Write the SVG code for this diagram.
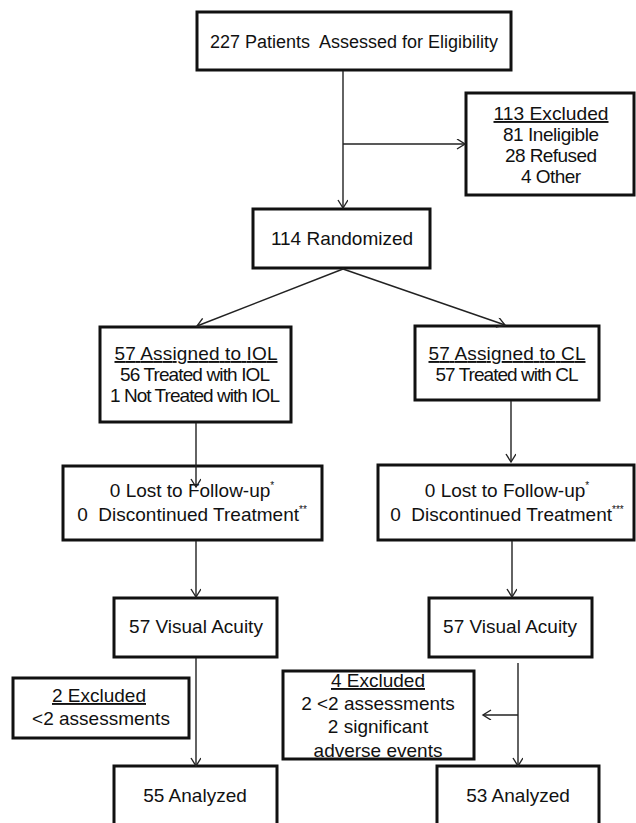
<svg xmlns="http://www.w3.org/2000/svg" width="636" height="823" viewBox="0 0 636 823">
<style>
.box{fill:#fff;stroke:#111;stroke-width:3}
.t{font-family:"Liberation Sans",Arial,sans-serif;font-size:19px;fill:#111;text-anchor:middle}
.s18{font-size:18px}
.u{text-decoration:underline}
.sup{font-size:10px}
.c{fill:none;stroke:#222;stroke-width:1.4}
</style>
<defs>
<marker id="ah" markerUnits="userSpaceOnUse" markerWidth="12" markerHeight="12" refX="9" refY="5" orient="auto">
<path d="M1,0 L9,5 L1,10" fill="none" stroke="#222" stroke-width="1.4"/>
</marker>
</defs>
<rect width="636" height="823" fill="#fff"/>
<g id="n_assessed">
<rect class="box" x="197" y="12" width="314" height="58"/>
<text class="t s18" x="354" y="48" xml:space="preserve">227 Patients  Assessed for Eligibility</text>
</g>
<g id="n_excluded113">
<rect class="box" x="466" y="93" width="168" height="102"/>
<text class="t u" x="551" y="120" textLength="115" lengthAdjust="spacingAndGlyphs">113 Excluded</text>
<text class="t" x="551" y="141" textLength="96" lengthAdjust="spacing">81 Ineligible</text>
<text class="t" x="551" y="162" textLength="92" lengthAdjust="spacing">28 Refused</text>
<text class="t" x="551" y="183" textLength="60" lengthAdjust="spacing">4 Other</text>
</g>
<g id="n_randomized">
<rect class="box" x="253" y="209" width="177" height="59"/>
<text class="t" x="342" y="245">114 Randomized</text>
</g>
<g id="n_iol">
<rect class="box" x="100" y="327" width="191" height="95"/>
<text class="t u" x="196" y="360" textLength="163" lengthAdjust="spacing">57 Assigned to IOL</text>
<text class="t" x="195" y="381" textLength="150" lengthAdjust="spacing">56 Treated with IOL</text>
<text class="t" x="195" y="402" textLength="170" lengthAdjust="spacing">1 Not Treated with IOL</text>
</g>
<g id="n_cl">
<rect class="box" x="415" y="326" width="184" height="74"/>
<text class="t u" x="507" y="360" textLength="157" lengthAdjust="spacing">57 Assigned to CL</text>
<text class="t" x="507" y="381" textLength="143" lengthAdjust="spacing">57 Treated with CL</text>
</g>
<g id="n_fu_iol">
<rect class="box" x="63" y="466" width="259" height="74"/>
<text class="t" x="192" y="497">0 Lost to Follow-up<tspan class="sup" dy="-8">*</tspan></text>
<text class="t" x="192" y="521" xml:space="preserve">0  Discontinued Treatment<tspan class="sup" dy="-8">**</tspan></text>
</g>
<g id="n_fu_cl">
<rect class="box" x="378" y="465" width="256" height="75"/>
<text class="t" x="507" y="497">0 Lost to Follow-up<tspan class="sup" dy="-8">*</tspan></text>
<text class="t" x="507" y="521" xml:space="preserve">0  Discontinued Treatment<tspan class="sup" dy="-8">***</tspan></text>
</g>
<g id="n_va_iol">
<rect class="box" x="114" y="598" width="163" height="59"/>
<text class="t" x="196" y="633">57 Visual Acuity</text>
</g>
<g id="n_va_cl">
<rect class="box" x="429" y="598" width="163" height="59"/>
<text class="t" x="510" y="633">57 Visual Acuity</text>
</g>
<g id="n_excl_iol">
<rect class="box" x="13" y="678" width="176" height="60"/>
<text class="t u" x="99" y="702">2 Excluded</text>
<text class="t" x="101" y="725">&lt;2 assessments</text>
</g>
<g id="n_excl_cl">
<rect class="box" x="283" y="671" width="191" height="88"/>
<text class="t u" x="378" y="687">4 Excluded</text>
<text class="t" x="378" y="710">2 &lt;2 assessments</text>
<text class="t" x="378" y="733">2 significant</text>
<text class="t" x="378" y="757">adverse events</text>
</g>
<g id="n_an_iol">
<rect class="box" x="114" y="766" width="163" height="70"/>
<text class="t" x="195" y="802">55 Analyzed</text>
</g>
<g id="n_an_cl">
<rect class="box" x="437" y="766" width="162" height="70"/>
<text class="t" x="518" y="802">53 Analyzed</text>
</g>
<g id="connectors">
<line class="c" x1="343" y1="71" x2="343" y2="208" marker-end="url(#ah)"/>
<line class="c" x1="343" y1="144" x2="465" y2="144" marker-end="url(#ah)"/>
<line class="c" x1="343" y1="269" x2="197" y2="326" marker-end="url(#ah)"/>
<line class="c" x1="343" y1="269" x2="505" y2="325" marker-end="url(#ah)"/>
<line class="c" x1="196" y1="423" x2="196" y2="487" marker-end="url(#ah)"/>
<line class="c" x1="511" y1="401" x2="511" y2="462" marker-end="url(#ah)"/>
<line class="c" x1="196" y1="541" x2="196" y2="597" marker-end="url(#ah)"/>
<line class="c" x1="512" y1="541" x2="512" y2="597" marker-end="url(#ah)"/>
<line class="c" x1="196" y1="658" x2="196" y2="766" marker-end="url(#ah)"/>
<line class="c" x1="518" y1="663" x2="518" y2="766" marker-end="url(#ah)"/>
<line class="c" x1="518" y1="715" x2="483" y2="715" marker-end="url(#ah)"/>
</g>
</svg>
